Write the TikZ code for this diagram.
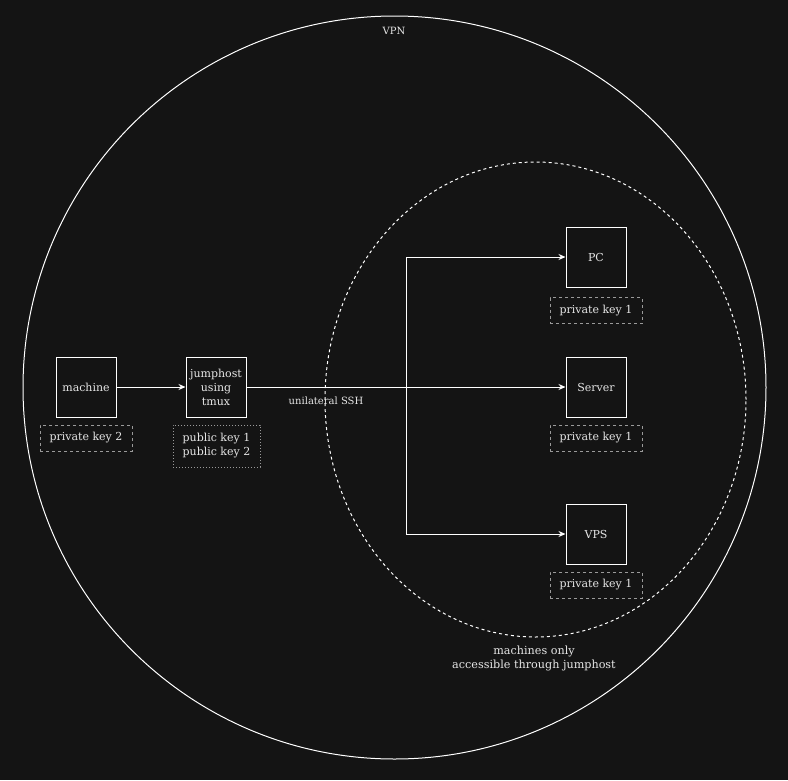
\documentclass[tikz,border=0pt]{standalone}
\usepackage{fontspec}
\setmainfont{DejaVu Serif}
\usetikzlibrary{arrows.meta, positioning}
\definecolor{bgcol}{HTML}{141414}
\definecolor{txtcol}{HTML}{E6E6E6}
\definecolor{keycol}{HTML}{9A9A9A}
\tikzset{
  host/.style={draw=white, line width=1pt, minimum width=60pt, minimum height=60pt,
    inner sep=0pt, align=center, text=txtcol, font=\fontsize{11}{14}\selectfont},
  keybox/.style={draw=keycol, line width=0.8pt, dash pattern=on 3pt off 3pt,
    minimum width=92pt, minimum height=26pt, inner sep=0pt, align=center,
    text=txtcol, font=\fontsize{11}{14}\selectfont},
  lbl/.style={text=txtcol, align=center, font=\fontsize{11.2}{14}\selectfont},
  link/.style={draw=white, line width=1pt, -{Stealth[length=7pt,width=6pt]}}
}
\begin{document}
\begin{tikzpicture}[x=1pt, y=-1pt]
\fill[bgcol] (0,0) rectangle (788,780);
\useasboundingbox (0,0) rectangle (788,780);

%zones
\draw[white, line width=1pt] (394.5,387.5) circle [radius=371.5pt];
\node[lbl, font=\fontsize{10}{12}\selectfont] (vpn) at (394,31) {VPN};
\draw[white, line width=1pt, dash pattern=on 3pt off 3pt] (535.5,399.5) ellipse [x radius=210.5pt, y radius=237.5pt];
\node[lbl] (onlylbl) at (534,658) {machines only\\accessible through jumphost};

%hosts
\node[host] (machine) at (86,387) {machine};
\node[host] (jump) at (216,387) {jumphost\\using\\tmux};
\node[host] (pc) at (596,257) {PC};
\node[host] (server) at (596,387) {Server};
\node[host] (vps) at (596,534) {VPS};

%keys
\node[keybox] (key2) at (86,438) {private key 2};
\node[keybox, dash pattern=on 1pt off 2pt, minimum width=87pt, minimum height=42pt] (pubkeys) at (216.5,446) {public key 1\\public key 2};
\foreach \h/\y in {pc/310.5, server/438, vps/585} {\node[keybox] (\h key) at (596,\y) {private key 1};}

%links
\coordinate (fork) at (406,387);
\draw[link] (machine) -- (jump);
\draw[link] (jump) -- (server);
\draw[link] (fork) |- (pc.west);
\draw[link] (fork) |- (vps.west);
\node[lbl, font=\fontsize{10}{12}\selectfont] (ssh) at (326,401) {unilateral SSH};
\end{tikzpicture}
\end{document}
